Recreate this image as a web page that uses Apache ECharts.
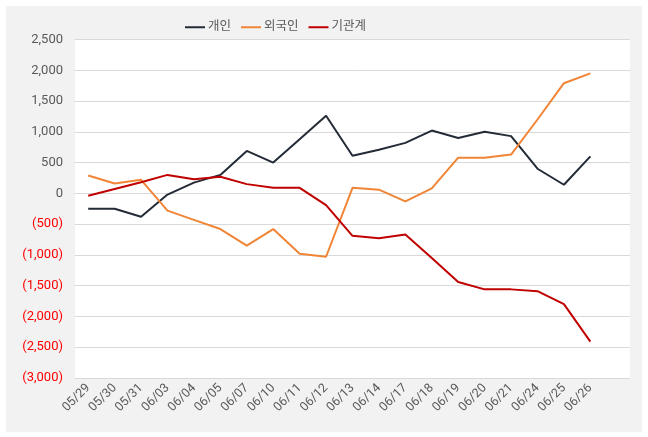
<!DOCTYPE html>
<html><head><meta charset="utf-8">
<script src="https://cdn.jsdelivr.net/npm/echarts@6/dist/echarts.min.js"></script>
<style>html,body{margin:0;padding:0;background:#fff;}#c{position:absolute;left:6px;top:6px;width:636px;height:426px;}</style>
</head><body><div id="c"></div>
<script>
const categories = ['05/29','05/30','05/31','06/03','06/04','06/05','06/07','06/10','06/11','06/12','06/13','06/14','06/17','06/18','06/19','06/20','06/21','06/24','06/25','06/26',''];
const individual = [-250,-250,-380,-20,175,300,690,500,880,1260,610,710,820,1020,900,1000,930,400,140,600];
const foreign = [290,160,220,-280,-430,-580,-850,-580,-980,-1030,90,60,-130,80,580,580,630,1200,1790,1950];
const institution = [-40,70,180,300,230,270,150,90,90,-190,-690,-730,-670,-1050,-1440,-1560,-1560,-1590,-1800,-2410];
const seriesNames = ['개인','외국인','기관계'];
const font = "Roboto, 'Noto Sans CJK KR', sans-serif";
function fmt(v){const s=Math.abs(v).toLocaleString('en-US');return v<0?'('+s+')':s;}
const chart = echarts.init(document.getElementById('c'));
chart.setOption({
  backgroundColor:'#f2f2f2',
  animation:false,
  textStyle:{fontFamily:font},
  legend:{left:174,top:10,itemWidth:20,itemHeight:2,itemGap:10,icon:'rect',
    textStyle:{color:'#595959',fontSize:12.5,fontFamily:font,padding:[0,0,0,-2]},
    data:seriesNames},
  grid:{left:69,right:12,top:33.5,bottom:54,show:true,backgroundColor:'#fff',borderWidth:0,containLabel:false},
  xAxis:{type:'category',data:categories,boundaryGap:true,
    axisLine:{show:true,lineStyle:{color:'#d9d9d9'}},axisTick:{show:false},
    axisLabel:{rotate:45,interval:0,color:'#595959',fontSize:12.5,fontFamily:font,margin:8}},
  yAxis:{type:'value',min:-3000,max:2500,interval:500,
    axisLine:{show:false},axisTick:{show:false},
    splitLine:{lineStyle:{color:'#d9d9d9'}},
    axisLabel:{margin:12,fontSize:13,fontFamily:font,
      formatter:fmt,
      color:function(v){return v<0?'#ff0000':'#595959';}}},
  series:[
    {name:seriesNames[0],type:'line',data:individual,symbol:'none',lineStyle:{width:2,color:'#232b36'},itemStyle:{color:'#232b36'}},
    {name:seriesNames[1],type:'line',data:foreign,symbol:'none',lineStyle:{width:2,color:'#f08537'},itemStyle:{color:'#f08537'}},
    {name:seriesNames[2],type:'line',data:institution,symbol:'none',lineStyle:{width:2,color:'#c00000'},itemStyle:{color:'#c00000'}}
  ]
});
</script></body></html>
